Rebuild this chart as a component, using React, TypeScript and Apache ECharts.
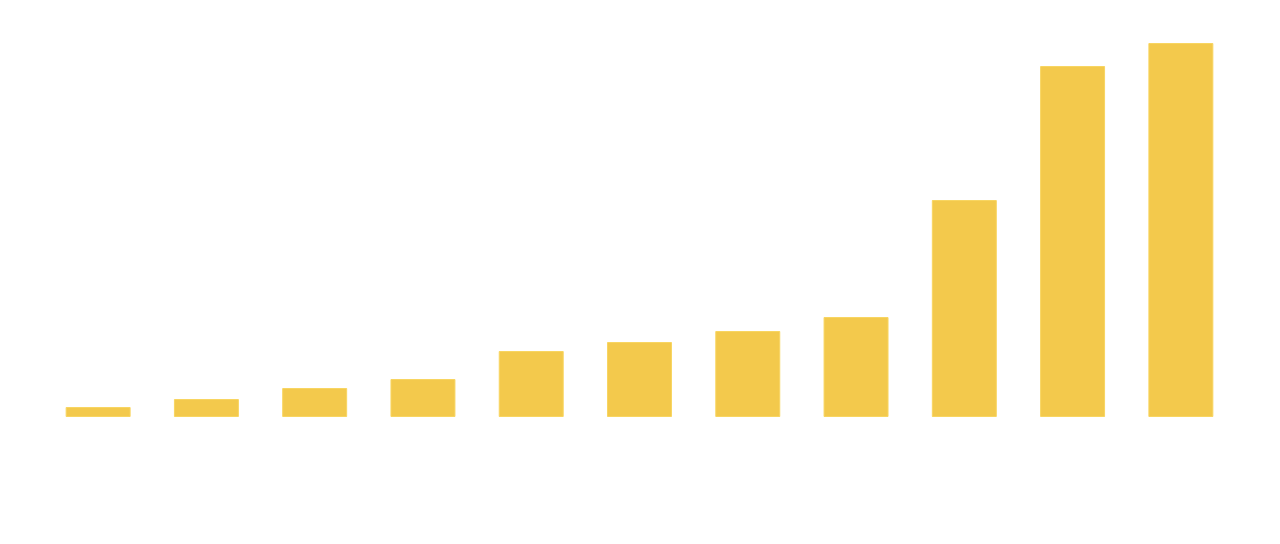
import React, { useEffect, useRef } from "react";
import * as echarts from "echarts";

const categories = ["A", "B", "C", "D", "E", "F", "G", "H", "I", "J", "K"];
const values = [10, 18, 29, 38, 66, 75, 86, 100, 217, 351, 374];

export default function App() {
  const ref = useRef<HTMLDivElement>(null);
  useEffect(() => {
    if (!ref.current) return;
    const chart = echarts.init(ref.current, undefined, { renderer: "svg" });
    chart.setOption({
      animation: false,
      backgroundColor: "#ffffff",
      grid: { left: 44, right: 45, top: 43, bottom: 127, containLabel: false },
      xAxis: {
        type: "category",
        data: categories,
        axisLine: { show: false },
        axisTick: { show: false },
        axisLabel: { color: "#ffffff", rotate: 30, fontSize: 12 },
      },
      yAxis: {
        type: "value",
        min: 0,
        max: 374,
        show: false,
        splitLine: { show: false },
      },
      series: [
        {
          type: "bar",
          data: values,
          barWidth: "60%",
          itemStyle: { color: "#F3C94C", borderColor: "#F8D561", borderWidth: 1 },
          label: { show: true, position: "top", color: "#ffffff" },
        },
      ],
    });
    return () => chart.dispose();
  }, []);
  return (
    <div
      ref={ref}
      style={{ position: "absolute", left: 0, top: 0, width: 1280, height: 544 }}
    />
  );
}
